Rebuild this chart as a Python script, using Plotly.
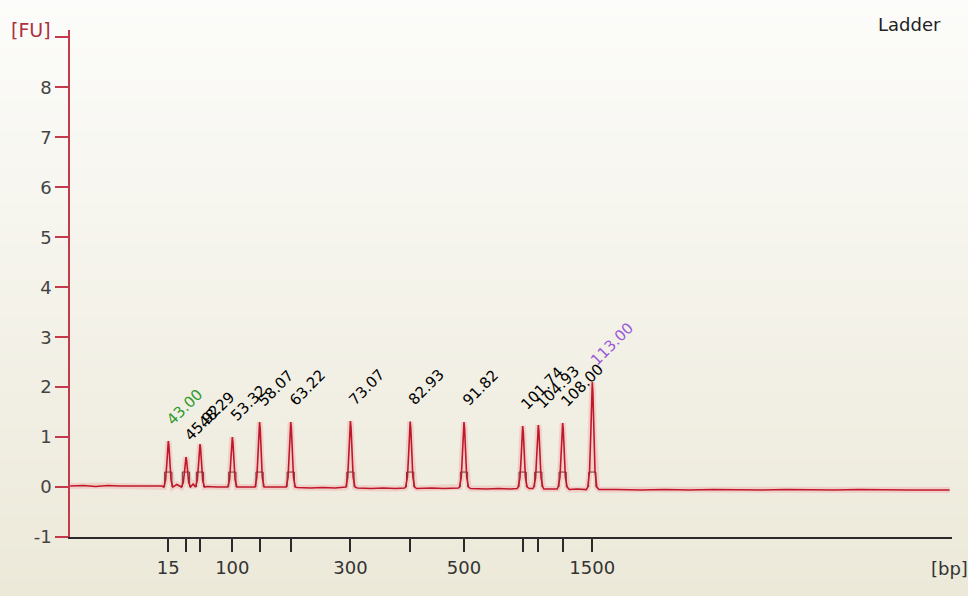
import base64
import struct
import zlib

import plotly.graph_objects as go

# ---------------- data ----------------
ladder_bp = ["15", "25", "50", "100", "150", "200", "300", "400", "500", "700", "850", "1000", "1500"]
bp_shown = ["15", "100", "300", "500", "1500"]
# peak positions (migration time, s)
peak_time = [43.00, 45.92, 48.23, 53.57, 58.07, 63.22, 73.07, 82.93, 91.82, 101.51, 104.09, 108.11, 113.00]
peak_label = ["43.00", "45.92", "48.29", "53.32", "58.07", "63.22", "73.07", "82.93", "91.82",
              "101.74", "104.93", "108.00", "113.00"]
peak_fu = [0.92, 0.60, 0.86, 1.00, 1.30, 1.30, 1.32, 1.31, 1.30, 1.22, 1.24, 1.28, 2.10]

baseline_time = [26.8, 29.0, 31.0, 33.0, 35.0, 37.0, 39.0, 41.0, 41.9,
                 44.4, 47.1, 49.4, 51.0, 52.6, 54.8, 56.5, 57.1, 59.2, 61.5, 62.3,
                 64.3, 66.5, 68.5, 70.5, 72.1, 74.2, 76.5, 78.5, 80.5, 82.0,
                 84.0, 86.5, 88.5, 90.9, 92.9, 95.5, 97.5, 99.5, 100.6, 102.6, 103.2,
                 105.0, 107.2, 109.2, 110.5, 112.0, 114.1, 117.0, 121.0, 125.0, 129.0,
                 133.0, 137.0, 141.0, 145.0, 149.0, 153.0, 157.0, 161.0, 165.0, 169.0, 172.0]
baseline_fu = [0.02, 0.03, 0.01, 0.03, 0.02, 0.02, 0.03, 0.02, 0.02,
               0.05, 0.06, 0.01, 0.00, 0.01, 0.00, 0.01, 0.00, 0.00, 0.00, -0.01,
               -0.01, -0.02, -0.01, -0.02, -0.01, -0.02, -0.03, -0.02, -0.03, -0.02,
               -0.03, -0.02, -0.03, -0.02, -0.03, -0.04, -0.03, -0.04, -0.03, -0.03, -0.03,
               -0.04, -0.04, -0.05, -0.04, -0.05, -0.05, -0.05, -0.06, -0.05, -0.06,
               -0.05, -0.06, -0.06, -0.05, -0.06, -0.06, -0.05, -0.06, -0.06, -0.06, -0.06]

# ---------------- styles ----------------
profile_dt = [-0.75, -0.45, -0.25, -0.1, 0.0, 0.1, 0.25, 0.45, 0.75]
profile_frac = [0.0, 0.15, 0.5, 0.9, 1.0, 0.9, 0.5, 0.15, 0.0]
marker_half = 0.6
marker_level = 0.3

TRACE_RED = "#c0182a"
AXIS_RED = "#c23a4c"
FONT = "DejaVu Sans"

# build trace from baseline + peaks
pts = list(zip(baseline_time, baseline_fu))
for t, h in zip(peak_time, peak_fu):
    for dt, f in zip(profile_dt, profile_frac):
        pts.append((t + dt, f * h))
pts.sort()
trace_x = [p[0] for p in pts]
trace_y = [p[1] for p in pts]

mk_x, mk_y = [], []
for t in peak_time:
    mk_x += [t - marker_half, t - marker_half, t + marker_half, t + marker_half, None]
    mk_y += [0.0, marker_level, marker_level, 0.0, None]

fig = go.Figure()
fig.add_trace(go.Scatter(x=trace_x, y=trace_y, mode="lines",
                         line=dict(color="rgba(240,110,120,0.22)", width=6),
                         hoverinfo="skip", showlegend=False))
fig.add_trace(go.Scatter(x=mk_x, y=mk_y, mode="lines",
                         line=dict(color="#6a3a3a", width=1),
                         hoverinfo="skip", showlegend=False))
fig.add_trace(go.Scatter(x=trace_x, y=trace_y, mode="lines",
                         line=dict(color=TRACE_RED, width=1.6),
                         hoverinfo="skip", showlegend=False))

# peak labels
for i, (t, h, lab) in enumerate(zip(peak_time, peak_fu, peak_label)):
    if i == 0:
        col = "#2e9a2e"
    elif i == len(peak_time) - 1:
        col = "#9a5ad8"
    else:
        col = "#000000"
    fig.add_annotation(x=t, y=h, text=lab, showarrow=False, textangle=-45,
                       xanchor="left", yanchor="bottom", xshift=-8, yshift=10,
                       font=dict(family=FONT, size=15, color=col))

# background gradient image
W_PX, H_PX = 968, 596
top = (252, 252, 250)
bot = (236, 233, 217)
rows = b""
for r in range(H_PX):
    f = r / (H_PX - 1)
    c = bytes(int(round(top[k] + (bot[k] - top[k]) * f)) for k in range(3))
    rows += b"\x00" + c


def chunk(tag, data):
    return struct.pack(">I", len(data)) + tag + data + struct.pack(">I", zlib.crc32(tag + data) & 0xffffffff)


png = b"\x89PNG\r\n\x1a\n" + chunk(b"IHDR", struct.pack(">IIBBBBB", 1, H_PX, 8, 2, 0, 0, 0)) \
    + chunk(b"IDAT", zlib.compress(rows)) + chunk(b"IEND", b"")
uri = "data:image/png;base64," + base64.b64encode(png).decode()

ML, MR, MT, MB = 70, 16, 30, 59
pw = W_PX - ML - MR
ph = H_PX - MT - MB
fig.add_layout_image(dict(source=uri, xref="paper", yref="paper",
                          x=-ML / pw, y=1 + MT / ph, sizex=W_PX / pw, sizey=H_PX / ph,
                          sizing="stretch", xanchor="left", yanchor="top", layer="below"))

xtext = [b if b in bp_shown else "" for b in ladder_bp]

fig.update_layout(
    width=W_PX, height=H_PX,
    margin=dict(l=ML, r=MR, t=MT, b=MB),
    paper_bgcolor="#f4f3ec",
    plot_bgcolor="rgba(0,0,0,0)",
    showlegend=False,
    xaxis=dict(range=[26.77, 172.39], showgrid=False, zeroline=False,
               showline=True, linecolor="#2a2a2a", linewidth=1.6,
               ticks="outside", ticklen=13, tickwidth=1.5, tickcolor="#2a2a2a",
               tickmode="array", tickvals=peak_time, ticktext=xtext,
               ticklabelstandoff=1,
               tickfont=dict(family=FONT, size=18, color="#333333")),
    yaxis=dict(range=[-1, 9.15], showgrid=False, zeroline=False,
               showline=True, linecolor=AXIS_RED, linewidth=1.6,
               ticks="outside", ticklen=13, tickwidth=1.5, tickcolor=AXIS_RED,
               tickmode="array", tickvals=list(range(-1, 10)),
               ticktext=[str(v) for v in range(-1, 9)] + [""],
               tickfont=dict(family=FONT, size=18, color="#444444")),
)

fig.add_annotation(xref="paper", yref="paper", x=(53 - ML) / pw, y=1 - (30 - MT) / ph,
                   text="[FU]", showarrow=False, xanchor="right", yanchor="middle",
                   font=dict(family=FONT, size=19, color="#b03040"))
fig.add_annotation(xref="paper", yref="paper", x=(876 - ML) / pw, y=1 - (25 - MT) / ph,
                   text="Ladder", showarrow=False, xanchor="left", yanchor="middle",
                   font=dict(family=FONT, size=18, color="#222222"))
fig.add_annotation(xref="paper", yref="paper", x=(929 - ML) / pw, y=1 - (568 - MT) / ph,
                   text="[bp]", showarrow=False, xanchor="left", yanchor="middle",
                   font=dict(family=FONT, size=18, color="#333333"))

fig.write_html("out.html")
